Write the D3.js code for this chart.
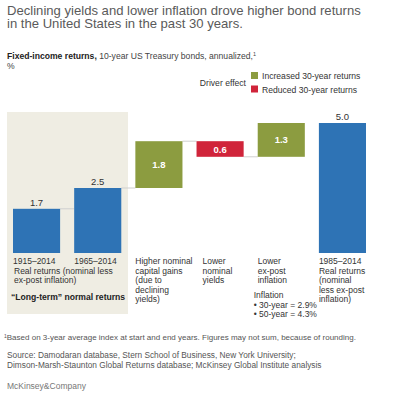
<!DOCTYPE html>
<html>
<head>
<meta charset="utf-8">
<script src="https://cdn.jsdelivr.net/npm/d3@7"></script>
<style>
body { margin: 0; background: #fff; }
text { font-family: "Liberation Sans", Arial, sans-serif; }
</style>
</head>
<body>
<svg width="400" height="394"></svg>
<script>
var svg = d3.select("svg");

// data
var categories = ["1915–2014", "1965–2014", "capital", "yields", "inflation", "1985–2014"];
var values = [1.7, 2.5, 1.8, -0.6, 1.3, 5.0];
var kinds = ["total", "total", "up", "down", "up", "total"];
var valueLabels = ["1.7", "2.5", "1.8", "0.6", "1.3", "5.0"];
var catLabels = [
    ["1915–2014"],
    ["1965–2014"],
    ["Higher nominal", "capital gains", "(due to", "declining", "yields)"],
    ["Lower", "nominal", "yields"],
    ["Lower", "ex-post", "inflation"],
    ["1985–2014", "Real returns", "(nominal", "less ex-post", "inflation)"]
];
var inflationNotes = ["Inflation", "• 30-year = 2.9%", "• 50-year = 4.3%"];
var legendItems = ["Increased 30-year returns", "Reduced 30-year returns"];

var colors = { total: "#2e73b5", up: "#8c9c40", down: "#d0243a" };

// compute waterfall start/end
var bars = [];
var running = 0;
values.forEach(function(v, i){
    var k = kinds[i], y0, y1;
    if(k == "total"){ y0 = 0; y1 = v; running = v; }
    else { y0 = running; y1 = running + v; running = y1; }
    bars.push({cat: categories[i], kind: k, y0: y0, y1: y1, label: valueLabels[i]});
});

var x = d3.scaleBand().domain(categories).range([13, 366]).paddingInner(0.23).paddingOuter(0);
var y = d3.scaleLinear().domain([0, 5]).range([253, 123]);

// beige panel behind long-term bars
svg.append("rect")
    .attr("x", 7).attr("y", 112)
    .attr("width", 121).attr("height", 202)
    .attr("fill", "#efede3");

// titles
var title = svg.append("text").attr("font-size", "13.1px").attr("fill", "#5a5a5a");
title.append("tspan").attr("x", 7).attr("y", 14.5).text("Declining yields and lower inflation drove higher bond returns");
title.append("tspan").attr("x", 7).attr("y", 28).text("in the United States in the past 30 years.");

var sub = svg.append("text").attr("x", 7).attr("y", 59).attr("font-size", "8.6px").attr("fill", "#222");
sub.append("tspan").attr("font-weight", "bold").text("Fixed-income returns,");
sub.append("tspan").attr("fill", "#444").text(" 10-year US Treasury bonds, annualized,");
sub.append("tspan").attr("font-size", "5.5px").attr("dy", -3).attr("fill", "#444").text("1");
svg.append("text").attr("x", 7).attr("y", 69).attr("font-size", "8.6px").attr("fill", "#444").text("%");

// legend
svg.append("text").attr("x", 246).attr("y", 86).attr("text-anchor", "end")
    .attr("font-size", "8.6px").attr("fill", "#333").text("Driver effect");
var leg = svg.append("g").selectAll("g").data(legendItems).enter().append("g")
    .attr("transform", (d, i) => "translate(251," + (72 + i * 13.5) + ")");
leg.append("rect").attr("width", 7).attr("height", 7)
    .attr("fill", (d, i) => i == 0 ? colors.up : colors.down);
leg.append("text").attr("x", 11).attr("y", 7).attr("font-size", "8.6px").attr("fill", "#333").text(d => d);

// connectors
var conn = [];
for(var i = 1; i < bars.length - 1; i++){
    conn.push({a: bars[i - 1].cat, b: bars[i].cat, v: bars[i - 1].y1});
}
svg.append("g").selectAll("line").data(conn).enter().append("line")
    .attr("x1", d => x(d.a) + x.bandwidth())
    .attr("x2", d => x(d.b))
    .attr("y1", d => y(d.v)).attr("y2", d => y(d.v))
    .attr("stroke", "#cfcfcf").attr("stroke-width", 1);

// bars
svg.append("g").selectAll("rect").data(bars).enter().append("rect")
    .attr("x", d => x(d.cat))
    .attr("y", d => y(Math.max(d.y0, d.y1)))
    .attr("width", x.bandwidth())
    .attr("height", d => Math.abs(y(d.y0) - y(d.y1)))
    .attr("fill", d => colors[d.kind]);

// value labels
svg.append("g").selectAll("text").data(bars).enter().append("text")
    .attr("x", d => x(d.cat) + x.bandwidth() / 2)
    .attr("y", d => d.kind == "total" ? y(d.y1) - 3 : (y(d.y0) + y(d.y1)) / 2 + 3.5)
    .attr("text-anchor", "middle")
    .attr("font-size", "9.5px")
    .attr("font-weight", d => d.kind == "total" ? "normal" : "bold")
    .attr("fill", d => d.kind == "total" ? "#333" : "#fff")
    .text(d => d.label);

// category labels
var fs = "8.5px";
var lh = 9.6;
catLabels.forEach(function(lines, i){
    var lx = x(categories[i]) + (i == 3 ? 6 : 0);
    var t = svg.append("text").attr("font-size", fs).attr("fill", "#333");
    lines.forEach(function(l, j){
        t.append("tspan").attr("x", lx).attr("y", 264 + j * lh).text(l);
    });
});
var rr = svg.append("text").attr("font-size", fs).attr("fill", "#333");
rr.append("tspan").attr("x", 14).attr("y", 264 + lh).text("Real returns (nominal less");
rr.append("tspan").attr("x", 14).attr("y", 264 + 2 * lh).text("ex-post inflation)");
svg.append("text").attr("x", 11).attr("y", 300).attr("font-size", "8.6px")
    .attr("font-weight", "bold").attr("fill", "#222").text("“Long-term” normal returns");

var inf = svg.append("text").attr("font-size", fs).attr("fill", "#333");
inflationNotes.forEach(function(l, j){
    inf.append("tspan").attr("x", x(categories[4]) - 4).attr("y", 298 + j * 9.6).text(l);
});

// footnotes
var fn = svg.append("text").attr("x", 4).attr("y", 340).attr("font-size", "8px").attr("fill", "#555");
fn.append("tspan").attr("font-size", "5px").attr("dy", -2).text("1");
fn.append("tspan").attr("dy", 2).text("Based on 3-year average index at start and end years. Figures may not sum, because of rounding.");
var src = svg.append("text").attr("font-size", "8.3px").attr("fill", "#555");
src.append("tspan").attr("x", 7).attr("y", 358).text("Source: Damodaran database, Stern School of Business, New York University;");
src.append("tspan").attr("x", 7).attr("y", 368).text("Dimson-Marsh-Staunton Global Returns database; McKinsey Global Institute analysis");

svg.append("text").attr("x", 7).attr("y", 389).attr("font-size", "8.5px")
    .attr("font-family", "Liberation Serif, serif").attr("fill", "#777").text("McKinsey&Company");
</script>
</body>
</html>
